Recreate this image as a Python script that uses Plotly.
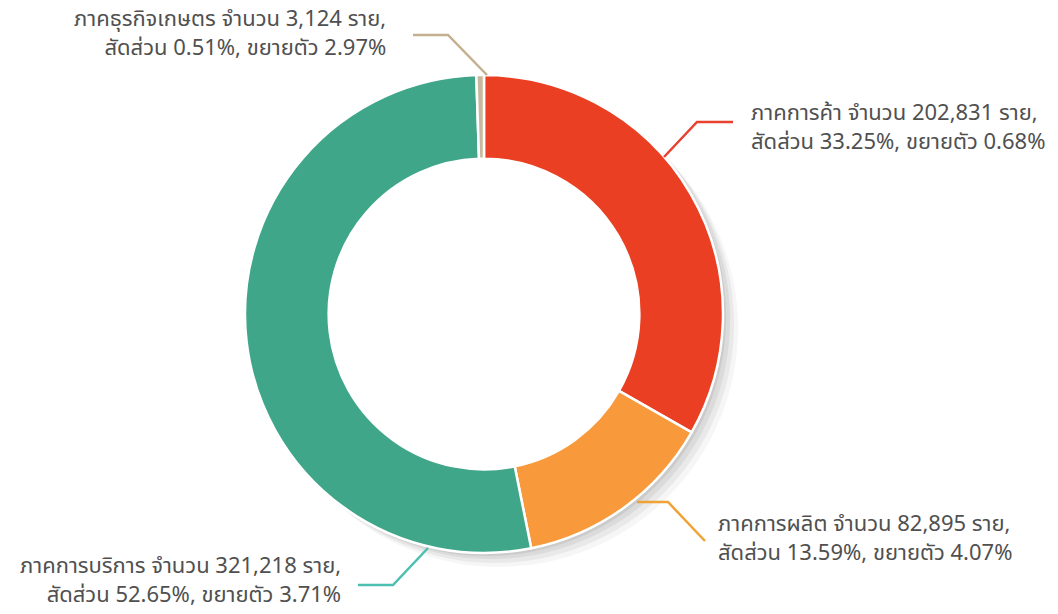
import plotly.graph_objects as go

# ---- data ----
sectors = ["ภาคการค้า", "ภาคการผลิต", "ภาคการบริการ", "ภาคธุรกิจเกษตร"]
counts = [202831, 82895, 321218, 3124]
shares = [33.25, 13.59, 52.65, 0.51]
growth = [0.68, 4.07, 3.71, 2.97]
colors = ["#ea3f22", "#f89a3b", "#40a689", "#c8b99c"]
line_colors = ["#e8412f", "#f0a236", "#4cbfb0", "#c4b08f"]

W, H = 1058, 614
cx, cy, R = 484, 314, 239
HOLE = 0.65


def px_x(x):
    return x / W


def px_y(y):
    return 1 - y / H


def domain(ox=0, oy=0, r=R):
    return dict(x=[px_x(cx + ox - r), px_x(cx + ox + r)],
                y=[px_y(cy + oy + r), px_y(cy + oy - r)])


fig = go.Figure()

# soft shadow layers (decoration)
for ox, oy, a in [(15, 14, 0.035), (11, 10, 0.05), (7, 6, 0.06), (3, 3, 0.07)]:
    fig.add_trace(go.Pie(values=[1], labels=["shadow"], hole=0.8, sort=False,
                         marker=dict(colors=[f"rgba(0,0,0,{a})"], line=dict(width=0)),
                         textinfo="none", hoverinfo="skip", showlegend=False,
                         domain=domain(ox, oy)))

fig.add_trace(go.Pie(
    labels=sectors, values=counts, hole=HOLE, sort=False, direction="clockwise",
    rotation=0, textinfo="none", showlegend=False,
    marker=dict(colors=colors, line=dict(color="white", width=2.5)),
    domain=domain()))

# label positions (pixels): text anchor, alignment, leader line path
labels_layout = [
    dict(tx=749, ty=128, xanchor="left", align="left",
         path=[(664, 157), (697, 122), (733, 122)]),
    dict(tx=716, ty=539, xanchor="left", align="left",
         path=[(637, 502), (668, 502), (705, 541)]),
    dict(tx=343, ty=581, xanchor="right", align="right",
         path=[(428, 548), (393, 585), (358, 585)]),
    dict(tx=388, ty=34, xanchor="right", align="right",
         path=[(487, 75), (448, 35), (413, 35)]),
]

for i, lay in enumerate(labels_layout):
    txt = (f"{sectors[i]} จำนวน {counts[i]:,} ราย,<br>"
           f"สัดส่วน {shares[i]:.2f}%, ขยายตัว {growth[i]:.2f}%")
    fig.add_annotation(x=px_x(lay["tx"]), y=px_y(lay["ty"]), xref="paper", yref="paper",
                       text=txt, showarrow=False, xanchor=lay["xanchor"], yanchor="middle",
                       align=lay["align"], font=dict(size=22, color="#505050"))
    p = lay["path"]
    d = "M " + " L ".join(f"{px_x(x)} {px_y(y)}" for x, y in p)
    fig.add_shape(type="path", path=d, xref="paper", yref="paper",
                  line=dict(color=line_colors[i], width=2.5))

fig.update_layout(width=W, height=H, margin=dict(l=0, r=0, t=0, b=0),
                  paper_bgcolor="white", plot_bgcolor="white",
                  font=dict(family="Tahoma, 'Noto Sans Thai', 'Noto Sans', sans-serif"))

fig.write_html("out.html", config={"displayModeBar": False},
               post_script="document.body.style.margin='0';")
